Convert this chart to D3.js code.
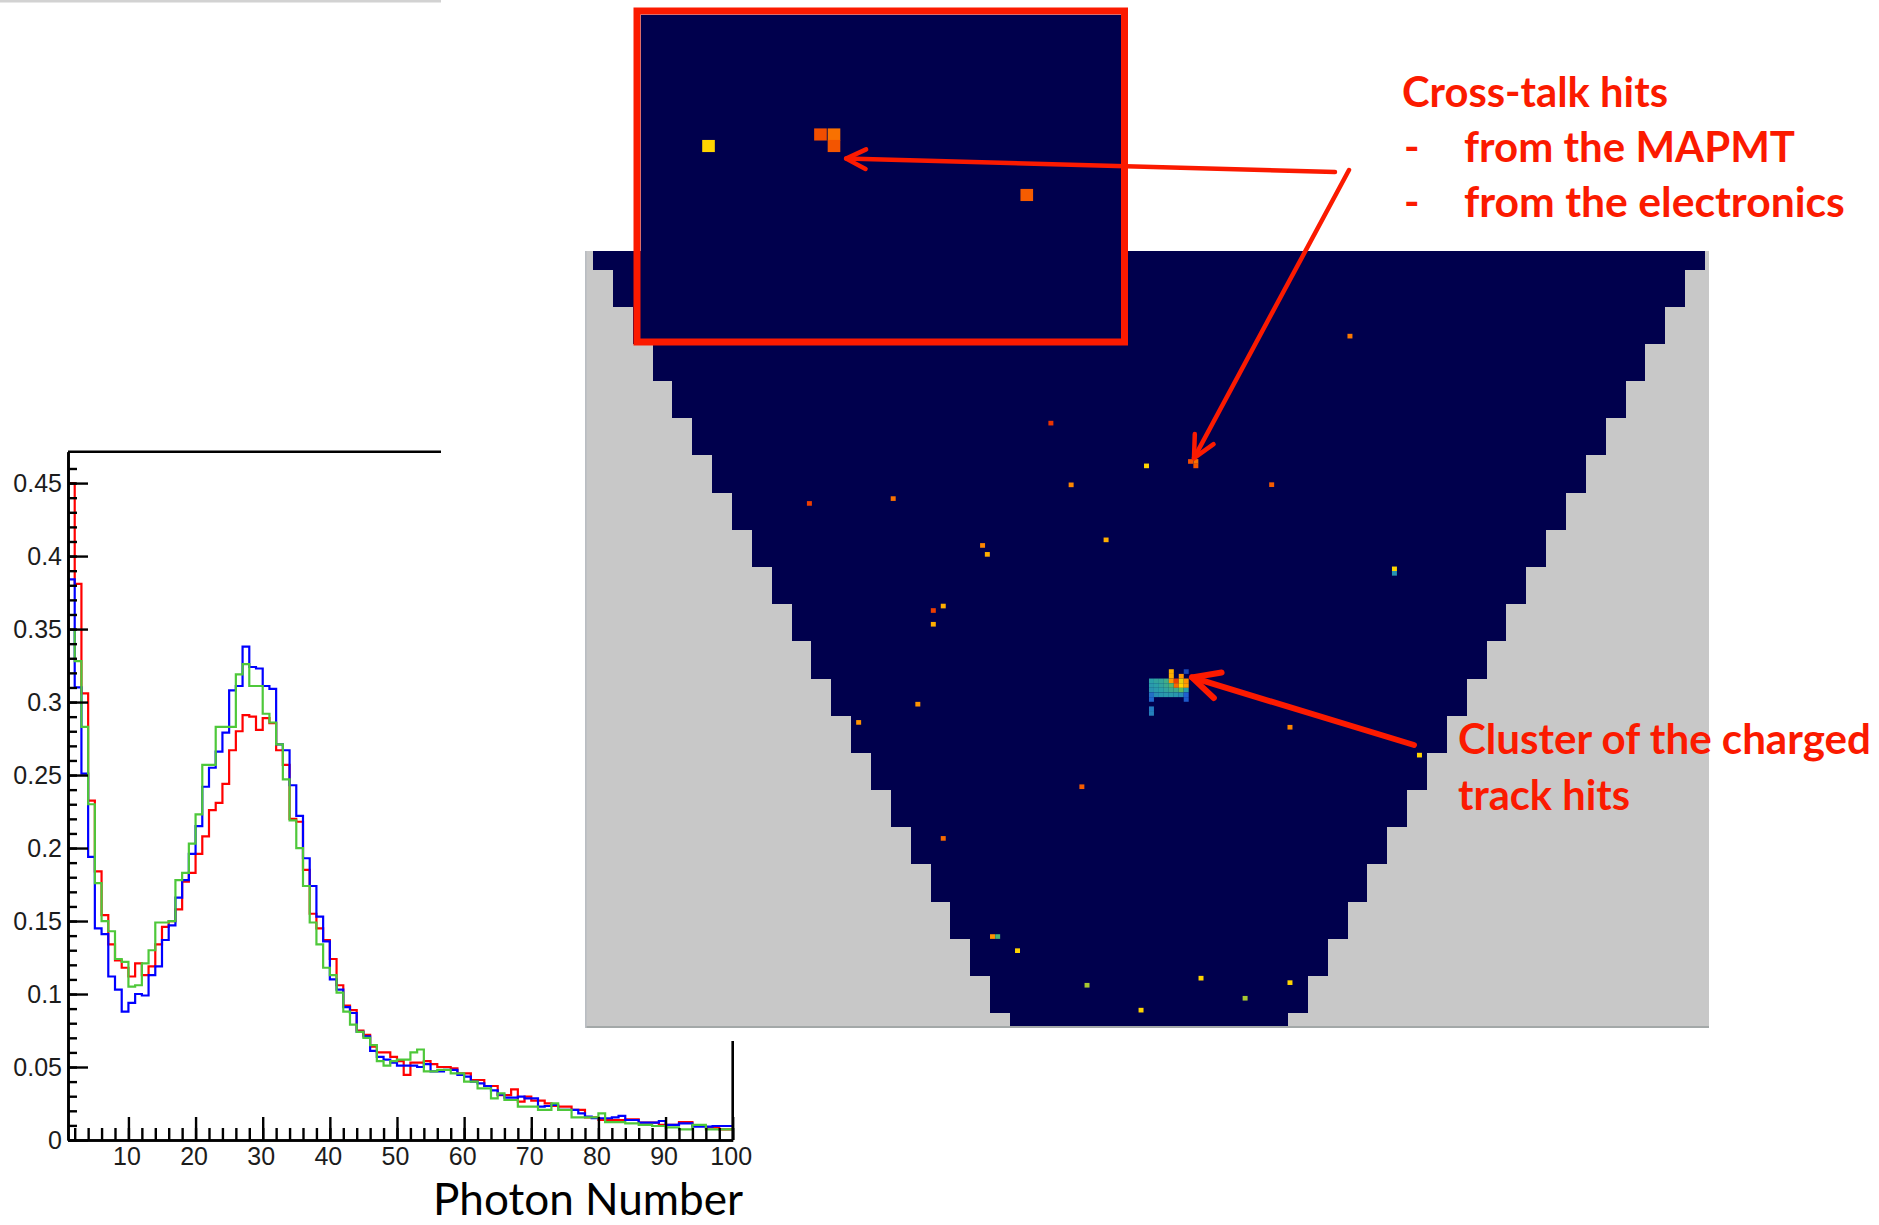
<!DOCTYPE html>
<html>
<head>
<meta charset="utf-8">
<script src="https://cdn.jsdelivr.net/npm/d3@7"></script>
<style>
  html, body { margin: 0; padding: 0; background: #ffffff; }
  svg { display: block; }
</style>
</head>
<body>
<svg id="fig" width="1879" height="1225"></svg>
<script>
// ---------------------------------------------------------------
// Photon-number spectra (three runs), normalised, unit-width bins 1..100
// ---------------------------------------------------------------
const binLowEdges = d3.range(1, 100);

const blueValues = [
  0.384, 0.310, 0.251, 0.194, 0.145, 0.141, 0.112, 0.103, 0.088, 0.094,
  0.100, 0.099, 0.113, 0.119, 0.137, 0.147, 0.166, 0.178, 0.196, 0.215,
  0.242, 0.255, 0.266, 0.279, 0.308, 0.311, 0.338, 0.324, 0.323, 0.311,
  0.309, 0.271, 0.267, 0.243, 0.222, 0.193, 0.174, 0.153, 0.136, 0.110,
  0.103, 0.091, 0.087, 0.074, 0.071, 0.061, 0.057, 0.055, 0.053, 0.051,
  0.051, 0.051, 0.050, 0.052, 0.047, 0.047, 0.048, 0.048, 0.0446, 0.0434,
  0.040, 0.0388, 0.037, 0.034, 0.031, 0.029, 0.029, 0.0297, 0.0285, 0.0285,
  0.0229, 0.0233, 0.024, 0.0206, 0.0206, 0.0206, 0.0183, 0.016, 0.0149, 0.0149,
  0.0149, 0.0155, 0.0165, 0.0137, 0.0137, 0.0119, 0.0119, 0.0119, 0.013, 0.0103,
  0.0103, 0.0114, 0.0114, 0.0091, 0.0091, 0.0091, 0.0096, 0.0096, 0.0096
];

const redValues = [
  0.450, 0.381, 0.306, 0.2325, 0.184, 0.154, 0.134, 0.123, 0.118, 0.112,
  0.121, 0.113, 0.119, 0.134, 0.146, 0.150, 0.158, 0.177, 0.183, 0.196,
  0.208, 0.226, 0.231, 0.244, 0.267, 0.280, 0.291, 0.290, 0.281, 0.289,
  0.2855, 0.267, 0.257, 0.220, 0.218, 0.185, 0.155, 0.145, 0.137, 0.124,
  0.106, 0.092, 0.089, 0.075, 0.072, 0.064, 0.060, 0.060, 0.057, 0.054,
  0.0446, 0.053, 0.053, 0.054, 0.052, 0.050, 0.050, 0.0491, 0.0457, 0.0457,
  0.0411, 0.0411, 0.037, 0.037, 0.0308, 0.0308, 0.0347, 0.0263, 0.0297, 0.027,
  0.027, 0.0251, 0.0233, 0.0229, 0.0229, 0.0206, 0.0206, 0.0155, 0.0155, 0.0137,
  0.0137, 0.0137, 0.0137, 0.0142, 0.0142, 0.0119, 0.0119, 0.0119, 0.0103, 0.0103,
  0.0103, 0.0123, 0.0123, 0.0096, 0.0096, 0.0087, 0.0087, 0.0073, 0.0073
];

const greenValues = [
  0.3495, 0.328, 0.283, 0.230, 0.176, 0.150, 0.143, 0.124, 0.122, 0.105,
  0.106, 0.121, 0.130, 0.149, 0.149, 0.150, 0.178, 0.183, 0.203, 0.223,
  0.257, 0.257, 0.283, 0.283, 0.283, 0.319, 0.326, 0.311, 0.311, 0.292,
  0.286, 0.271, 0.247, 0.219, 0.200, 0.174, 0.149, 0.134, 0.118, 0.113,
  0.101, 0.088, 0.079, 0.074, 0.070, 0.065, 0.054, 0.051, 0.054, 0.055,
  0.055, 0.060, 0.062, 0.047, 0.047, 0.048, 0.048, 0.0457, 0.0457, 0.040,
  0.040, 0.0354, 0.0354, 0.0285, 0.032, 0.0274, 0.0274, 0.0229, 0.0229, 0.0229,
  0.0206, 0.0206, 0.0251, 0.0206, 0.0206, 0.0155, 0.0155, 0.0155, 0.0155, 0.0183,
  0.0123, 0.0123, 0.0123, 0.0114, 0.0114, 0.0103, 0.0103, 0.0096, 0.0096, 0.0087,
  0.0087, 0.0073, 0.0073, 0.0103, 0.0103, 0.0073, 0.0073, 0.0073, 0.0073
];

const seriesNames  = ["red", "blue", "green"];
const seriesColors = ["#ff0000", "#0000ff", "#4ec83a"];
const seriesValues = [redValues, blueValues, greenValues];

const xMajorTicks = [10, 20, 30, 40, 50, 60, 70, 80, 90, 100];
const yMajorTicks = [0, 0.05, 0.1, 0.15, 0.2, 0.25, 0.3, 0.35, 0.4, 0.45];
const yTickLabels = ["0", "0.05", "0.1", "0.15", "0.2", "0.25", "0.3", "0.35", "0.4", "0.45"];
const xAxisTitle = "Photon Number";

// ---------------------------------------------------------------
// RICH photon-detector event display
// Rows of MAPMTs (bottom to top); a row with N tubes spans y in [N-6, N-5]
// ---------------------------------------------------------------
const rowPmtCounts = [7, 8, 9, 10, 11, 12, 13, 14, 15, 16, 17, 18, 19, 20, 21, 22, 23, 24, 25, 26, 27, 28];
const pixelPitch = 1 / 8;   // one MAPMT = 8 x 8 pixels

// isolated hits (x in tube widths from centre, y in row units), level = colour-scale value
const isolatedHits = [
  { x: 5.06,   y: 20.21,  level: 0.84 },
  { x: -2.47,  y: 17.87,  level: 0.95 },
  { x: -0.0625, y: 16.72, level: 0.70 },
  { x: 1.046,  y: 16.839, level: 0.90 },
  { x: 1.18,   y: 16.839, level: 0.85 },
  { x: 1.18,   y: 16.72,  level: 0.89 },
  { x: -1.96,  y: 16.21,  level: 0.82 },
  { x: 3.089,  y: 16.215, level: 0.88 },
  { x: -8.55,  y: 15.71,  level: 0.93 },
  { x: -6.44,  y: 15.84,  level: 0.85 },
  { x: -1.08,  y: 14.73,  level: 0.76 },
  { x: -4.19,  y: 14.58,  level: 0.82 },
  { x: -4.07,  y: 14.34,  level: 0.76 },
  { x: 6.18,   y: 13.95,  level: 0.70 },
  { x: 6.18,   y: 13.83,  level: 0.36 },
  { x: -5.18,  y: 12.95,  level: 0.76 },
  { x: -5.43,  y: 12.83,  level: 0.93 },
  { x: -5.43,  y: 12.46,  level: 0.76 },
  { x: -5.82,  y: 10.31,  level: 0.80 },
  { x: -7.31,  y: 9.82,   level: 0.80 },
  { x: 3.55,   y: 9.69,   level: 0.82 },
  { x: 6.81,   y: 8.94,   level: 0.70 },
  { x: -1.69,  y: 8.09,   level: 0.88 },
  { x: -5.18,  y: 6.70,   level: 0.86 },
  { x: -3.94,  y: 4.06,   level: 0.80 },
  { x: -3.81,  y: 4.06,   level: 0.50 },
  { x: -3.31,  y: 3.68,   level: 0.70 },
  { x: -1.56,  y: 2.75,   level: 0.62 },
  { x: 1.31,   y: 2.94,   level: 0.70 },
  { x: 2.42,   y: 2.40,   level: 0.62 },
  { x: 3.55,   y: 2.82,   level: 0.70 },
  { x: -0.20,  y: 2.08,   level: 0.70 }
];

// charged-track cluster inside one MAPMT: [pixel column, pixel row from the tube's top edge, level]
const clusterTube = { left: 0, top: 11 };
const clusterPixels = [
  [4, -2, 0.76], [4, -1, 0.76], [6, -1, 0.80], [7, -2, 0.12],
  [0, 0, 0.40], [1, 0, 0.42], [2, 0, 0.43], [3, 0, 0.47], [4, 0, 0.80], [5, 0, 0.93], [6, 0, 0.68], [7, 0, 0.80],
  [0, 1, 0.38], [1, 1, 0.40], [2, 1, 0.42], [3, 1, 0.45], [4, 1, 0.52], [5, 1, 0.86], [6, 1, 0.70], [7, 1, 0.78],
  [0, 2, 0.36], [1, 2, 0.38], [2, 2, 0.40], [3, 2, 0.42], [4, 2, 0.45], [5, 2, 0.46], [6, 2, 0.55], [7, 2, 0.40],
  [0, 3, 0.25], [1, 3, 0.34], [2, 3, 0.37], [3, 3, 0.38], [4, 3, 0.38], [5, 3, 0.37], [6, 3, 0.34], [7, 3, 0.20],
  [0, 4, 0.22], [7, 4, 0.18],
  [0, 6, 0.28], [0, 7, 0.30]
];

const hitPalette = d3.scaleLinear()
  .domain([0, 0.2, 0.4, 0.55, 0.7, 0.8, 0.9, 1])
  .range(["#0a1a8a", "#1f60d0", "#2aa0a8", "#5cbc5c", "#ffd400", "#ff9400", "#f24e00", "#e01800"])
  .clamp(true);

const annotationRed = "#fb1a00";

// ---------------------------------------------------------------
const svg = d3.select("#fig");
const defs = svg.append("defs");

function fitText(sel, targetWidth) {
  const len = sel.node().getComputedTextLength();
  const fs = +sel.attr("font-size");
  sel.attr("font-size", (fs * targetWidth / len).toFixed(2));
  return sel;
}

// ================= histogram =================
const hx = d3.scaleLinear().domain([1, 100]).range([68, 732.7]);
const hy = d3.scaleLinear().domain([0, 0.4715]).range([1140, 451.7]);

// the detector picture sits above the upper-right part of the histogram
defs.append("clipPath").attr("id", "histView")
  .append("path").attr("d", "M0,0H441V1041H1879V1225H0Z");
defs.append("clipPath").attr("id", "histPlot")
  .append("rect")
  .attr("x", hx(1)).attr("y", hy(0.4715))
  .attr("width", hx(100) - hx(1)).attr("height", hy(0) - hy(0.4715));

const hist = svg.append("g").attr("clip-path", "url(#histView)");

hist.append("line")
  .attr("x1", 0).attr("x2", 441).attr("y1", 1.2).attr("y2", 1.2)
  .attr("stroke", "#d2d2d2").attr("stroke-width", 2.4);

const plot = hist.append("g").attr("clip-path", "url(#histPlot)");
const stepLine = d3.line()
  .x(d => hx(d[0])).y(d => hy(d[1]))
  .curve(d3.curveStepAfter);

seriesValues.forEach((vals, i) => {
  const pts = binLowEdges.map((b, k) => [b, vals[k]]);
  pts.push([100, vals[vals.length - 1]]);
  plot.append("path")
    .datum(pts)
    .attr("class", "series-" + seriesNames[i])
    .attr("d", stepLine)
    .attr("fill", "none")
    .attr("stroke", seriesColors[i])
    .attr("stroke-width", 2.2);
});

const axisFont = "'Liberation Sans', Arial, Helvetica, sans-serif";
function styleAxis(g) {
  g.attr("font-family", axisFont).attr("font-size", 25);
  g.selectAll("path.domain").attr("stroke", "#000").attr("stroke-width", 2.6);
  g.selectAll(".tick line").attr("stroke", "#000").attr("stroke-width", 2.4);
  g.selectAll(".tick text").attr("fill", "#1c1c1c");
}

// x axis: minor then major ticks (inward)
hist.append("g").attr("transform", `translate(0,${hy(0)})`)
  .call(d3.axisBottom(hx).tickValues(d3.range(2, 101, 2)).tickSize(-12).tickSizeOuter(0).tickFormat(""))
  .call(styleAxis);
hist.append("g").attr("transform", `translate(0,${hy(0)})`)
  .call(d3.axisBottom(hx).tickValues(xMajorTicks).tickSize(-23).tickSizeOuter(0).tickPadding(7).tickFormat(d => String(d)))
  .call(styleAxis)
  .selectAll(".tick text").attr("dx", -2);

// y axis
hist.append("g").attr("transform", `translate(${hx(1)},0)`)
  .call(d3.axisLeft(hy).tickValues(d3.range(0, 47).map(i => i / 100)).tickSize(-9).tickSizeOuter(0).tickFormat(""))
  .call(styleAxis);
hist.append("g").attr("transform", `translate(${hx(1)},0)`)
  .call(d3.axisLeft(hy).tickValues(yMajorTicks).tickSize(-20).tickSizeOuter(0).tickPadding(6)
        .tickFormat((d, i) => yTickLabels[i]))
  .call(styleAxis);

// frame (top and right)
hist.append("path")
  .attr("d", `M${hx(1)},${hy(0.4715)}H${hx(100)}V${hy(0)}`)
  .attr("fill", "none").attr("stroke", "#000").attr("stroke-width", 2.6);

// axis title
svg.append("text")
  .attr("x", 433).attr("y", 1215)
  .attr("font-family", "Lato, 'Open Sans', sans-serif")
  .attr("font-size", 44)
  .attr("fill", "#000")
  .text(xAxisTitle)
  .call(s => fitText(s, 310));

// ================= detector display =================
const dx = d3.scaleLinear().domain([-14.2, 14.1]).range([585, 1709]);
const dy = d3.scaleLinear().domain([1.6, 22.5]).range([1028, 251]);

defs.append("clipPath").attr("id", "panelClip")
  .append("rect")
  .attr("x", dx(-14.2)).attr("y", dy(22.5))
  .attr("width", dx(14.1) - dx(-14.2)).attr("height", dy(1.6) - dy(22.5));

const panel = svg.append("g").attr("clip-path", "url(#panelClip)");
panel.append("rect")
  .attr("x", dx(-14.2)).attr("y", dy(22.5))
  .attr("width", dx(14.1) - dx(-14.2)).attr("height", dy(1.6) - dy(22.5))
  .attr("fill", "#c8c8c8");

const navy = "#00004d";
panel.selectAll("rect.row")
  .data(rowPmtCounts)
  .join("rect")
  .attr("class", "row")
  .attr("x", n => dx(-n / 2))
  .attr("y", n => dy(n - 5))
  .attr("width", n => dx(n / 2) - dx(-n / 2))
  .attr("height", n => dy(n - 6) - dy(n - 5))
  .attr("fill", navy)
  .attr("shape-rendering", "crispEdges");

const clusterHits = clusterPixels.map(([c, r, level]) => ({
  x: clusterTube.left + (c + 0.5) * pixelPitch,
  y: clusterTube.top - (r + 0.5) * pixelPitch,
  level
}));
const allHits = isolatedHits.concat(clusterHits);

function drawHits(g, sx, sy) {
  g.selectAll("rect.hit")
    .data(allHits)
    .join("rect")
    .attr("class", "hit")
    .attr("x", d => sx(d.x - pixelPitch / 2))
    .attr("y", d => sy(d.y + pixelPitch / 2))
    .attr("width", d => sx(d.x + pixelPitch / 2) - sx(d.x - pixelPitch / 2))
    .attr("height", d => sy(d.y - pixelPitch / 2) - sy(d.y + pixelPitch / 2))
    .attr("fill", d => hitPalette(d.level));
}
drawHits(panel.append("g"), dx, dy);

// panel edges
panel.append("line")
  .attr("x1", dx(-14.2)).attr("x2", dx(14.1)).attr("y1", dy(1.6) - 1).attr("y2", dy(1.6) - 1)
  .attr("stroke", "#a3a8a8").attr("stroke-width", 2);
panel.append("line")
  .attr("x1", dx(-14.2) + 0.8).attr("x2", dx(-14.2) + 0.8).attr("y1", dy(22.5)).attr("y2", dy(1.6))
  .attr("stroke", "#b9bdc2").attr("stroke-width", 1.6);

// ---------- magnified inset of the cross-talk region ----------
const ix = d3.scaleLinear().domain([-0.736, 4.022]).range([640.5, 1121]);
const iy = d3.scaleLinear().domain([14.730, 18.076]).range([339, 14.5]);

defs.append("clipPath").attr("id", "insetClip")
  .append("rect")
  .attr("x", ix.range()[0]).attr("y", iy.range()[1])
  .attr("width", ix.range()[1] - ix.range()[0]).attr("height", iy.range()[0] - iy.range()[1]);

const inset = svg.append("g").attr("clip-path", "url(#insetClip)");
inset.append("rect")
  .attr("x", ix.range()[0]).attr("y", iy.range()[1])
  .attr("width", ix.range()[1] - ix.range()[0]).attr("height", iy.range()[0] - iy.range()[1])
  .attr("fill", navy);
drawHits(inset.append("g"), ix, iy);

svg.append("rect")
  .attr("x", 637).attr("y", 11)
  .attr("width", 487.5).attr("height", 331)
  .attr("fill", "none")
  .attr("stroke", annotationRed).attr("stroke-width", 7);

// ================= annotations =================
function arrow(from, to, width, head) {
  const ang = Math.atan2(from[1] - to[1], from[0] - to[0]);
  const spread = 0.46;
  const a1 = [to[0] + head * Math.cos(ang + spread), to[1] + head * Math.sin(ang + spread)];
  const a2 = [to[0] + head * Math.cos(ang - spread), to[1] + head * Math.sin(ang - spread)];
  const g = svg.append("g")
    .attr("fill", "none").attr("stroke", annotationRed)
    .attr("stroke-width", width).attr("stroke-linecap", "round").attr("stroke-linejoin", "round");
  g.append("line").attr("x1", from[0]).attr("y1", from[1]).attr("x2", to[0]).attr("y2", to[1]);
  g.append("path").attr("d", `M${a1[0]},${a1[1]}L${to[0]},${to[1]}L${a2[0]},${a2[1]}`);
}

// arrow tips are anchored to the hits they point at
arrow([1335, 172], [ix(1.30), iy(16.59)], 4.5, 22);
arrow([1349, 170], [dx(1.133), dy(16.93)], 4.5, 24);
arrow([1414, 745], [dx(1.083), dy(11.03)], 6, 30);

const noteFont = "Lato, 'Open Sans', sans-serif";
function note(x, y, text, width) {
  const t = svg.append("text")
    .attr("x", x).attr("y", y)
    .attr("font-family", noteFont).attr("font-weight", 700)
    .attr("font-size", 42)
    .attr("fill", annotationRed)
    .text(text);
  if (width) fitText(t, width);
  return t;
}

const crossTitle = note(1402, 107, "Cross-talk hits", 266);
note(1464, 162, "from the MAPMT", 331);
note(1464, 217, "from the electronics", 381);
note(1404, 162, "-").attr("font-size", crossTitle.attr("font-size"));
note(1404, 217, "-").attr("font-size", crossTitle.attr("font-size"));
note(1458, 754, "Cluster of the charged", 413);
note(1458, 810, "track hits", 172);
</script>
</body>
</html>
